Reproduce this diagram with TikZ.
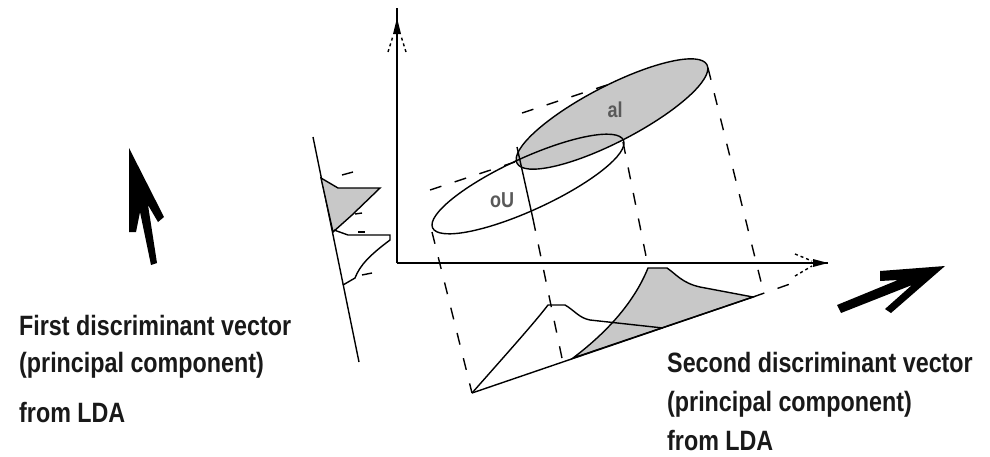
\documentclass[tikz,border=0pt]{standalone}
\usepackage{fontspec}
\setmainfont{Liberation Sans}
\usepackage{tikz}

\definecolor{areagray}{RGB}{200,200,200}
\newcommand{\tallbox}[1]{\scalebox{1}[1.2]{#1}}

\tikzset{
  axis/.style={line width=2pt},
  curve/.style={line width=1.4pt},
  proj/.style={line width=1.4pt, dash pattern=on 12pt off 14pt},
  bigarrow/.style={fill=black},
  vectext/.style={anchor=base west, inner sep=0pt, text=black!90,
    font=\bfseries\fontsize{23.3}{28}\selectfont},
  classtext/.style={inner sep=0pt, text=black!65,
    font=\bfseries\fontsize{18}{22}\selectfont},
}

\begin{document}
\begin{tikzpicture}[x=1pt, y=-1pt]
  \fill[white] (0,0) rectangle (990,456);
  \useasboundingbox (0,0) rectangle (990,456);

  % Achsen
  \coordinate (corner) at (397,263);
  \coordinate (ytop) at (397,8);
  \coordinate (xend) at (828,263);
  \draw[axis] (corner) -- (ytop);
  \draw[axis] (corner) -- (xend);
  \fill (393,34) -- (397,18) -- (401,34) -- cycle;
  \draw[curve, dashed] (388,52) -- (393,36) (406,52) -- (401,36);
  \fill (813,259) -- (828,263) -- (813,267) -- cycle;
  \draw[curve, dashed] (795,254) -- (812,261) (795,276) -- (812,266);

  % Klassen im Merkmalsraum
  \draw[curve, fill=areagray, shift={(612,114)}, rotate=27.4]
    (0,0) ellipse [x radius=107, y radius=28];
  \draw[curve, shift={(528,184)}, rotate=24.7]
    (0,0) ellipse [x radius=105, y radius=26];
  \node[classtext] (al) at (615,110) {\tallbox{al}};
  \node[classtext] (oU) at (502,200) {\tallbox{oU}};
  \draw[proj] (430,190) -- (515,162);
  \draw[proj] (522,113) -- (610,84);

  % Projektion nach unten
  \coordinate (b0) at (472,393);
  \coordinate (b1) at (753,297);
  \coordinate (b2) at (790,284);
  \draw[curve, fill=areagray] (573,358) .. controls (610,330) and (635,300) .. (648,268)
    -- (667,268) .. controls (676,274) and (682,283) .. (700,287) -- (b1) -- cycle;
  \draw[curve] (b0) -- (b1);
  \draw[proj] (b1) -- (b2);
  \draw[curve] (b0) .. controls (510,350) and (535,322) .. (548,305) -- (565,305)
    .. controls (574,310) and (579,318) .. (590,320) -- (663,328);
  \draw[proj] (432,232) -- (b0);
  \draw[curve] (517,147) -- (533,219);
  \draw[proj] (533,219) -- (563,363);
  \draw[proj] (623,142) -- (648,266);
  \draw[proj] (708,68) -- (764,294);

  % Projektion nach links
  \coordinate (l0) at (313,137);
  \coordinate (l1) at (359,362);
  \draw[curve] (l0) -- (l1);
  \draw[curve, fill=areagray] (321,178) -- (338,188) -- (380,188) -- (352,215)
    -- (333,232) -- cycle;
  \draw[curve] (334,230) -- (348,235) -- (390,235) -- (390,240)
    .. controls (370,255) and (360,265) .. (355,278) -- (343,285);
  \draw[curve] (342,175) -- (353,172);
  \draw[curve] (355,214) -- (362,213);
  \draw[line width=2.5pt] (358,232) -- (365,232);
  \draw[curve] (362,275) -- (372,273);

  % Richtungspfeile
  \fill[bigarrow] (129,148) -- (164,217) -- (158,222) -- (148,205) -- (157,263)
    -- (151,265) -- (140,212) -- (136,232) -- (129,232) -- cycle;
  \fill[bigarrow] (880,271) -- (945,266) -- (891,313) -- (885,309) -- (912,285)
    -- (841,313) -- (837,305) -- (898,280) -- (880,281) -- cycle;

  % Beschriftung
  \node[vectext] (first1) at (19,335) {\tallbox{First discriminant vector}};
  \node[vectext] (first2) at (19,372) {\tallbox{(principal component)}};
  \node[vectext] (first3) at (19,422) {\tallbox{from LDA}};
  \node[vectext] (second1) at (667,372) {\tallbox{Second discriminant vector}};
  \node[vectext] (second2) at (667,411) {\tallbox{(principal component)}};
  \node[vectext] (second3) at (667,450) {\tallbox{from LDA}};
\end{tikzpicture}
\end{document}
